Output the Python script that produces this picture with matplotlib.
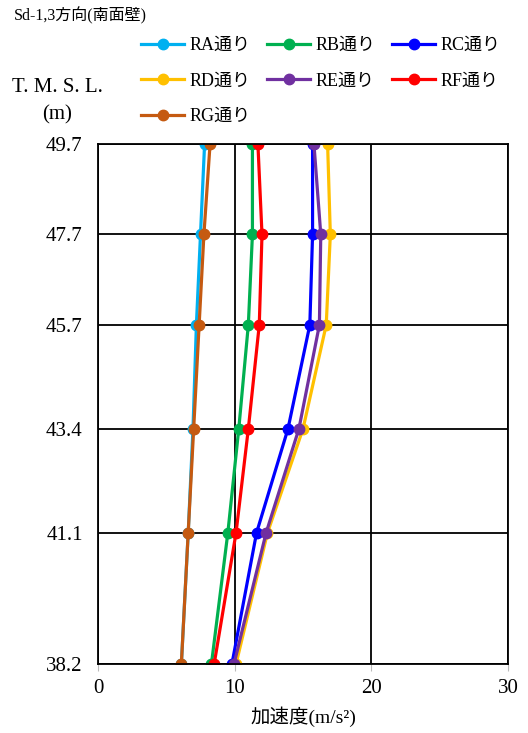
import matplotlib.pyplot as plt
import numpy as np

# elevation levels (T.M.S.L., m)
levels = [49.7, 47.7, 45.7, 43.4, 41.1, 38.2]
level_labels = ["49.7", "47.7", "45.7", "43.4", "41.1", "38.2"]

# acceleration (m/s2) per line, top to bottom
ra = [7.8, 7.5, 7.2, 6.95, 6.6, 6.1]
rb = [11.3, 11.3, 11.0, 10.3, 9.5, 8.3]
rc = [15.7, 15.7, 15.5, 13.9, 11.6, 9.8]
rd = [16.8, 17.0, 16.7, 15.0, 12.4, 10.1]
re_ = [15.8, 16.3, 16.2, 14.7, 12.3, 9.95]
rf = [11.7, 12.0, 11.8, 11.0, 10.1, 8.5]
rg = [8.2, 7.75, 7.4, 7.0, 6.6, 6.1]

names = ["RA通り", "RB通り", "RC通り", "RD通り", "RE通り", "RF通り", "RG通り"]
series = [ra, rb, rc, rd, re_, rf, rg]
colors = ["#00B0F0", "#00B050", "#0000FF", "#FFC000", "#7030A0", "#FF0000", "#C55A11"]

x_ticks = [0, 10, 20, 30]

fams = ["Liberation Serif", "Noto Sans CJK JP"]
plt.rcParams['font.family'] = fams

fig = plt.figure(figsize=(5.28, 7.33), dpi=100)
ax = fig.add_axes([98 / 528, 1 - 664 / 733, 410 / 528, 520 / 733])

handles = []
for name, vals, c in zip(names, series, colors):
    h, = ax.plot(vals, levels, color=c, lw=2.3, marker='o', ms=7.5, label=name)
    handles.append(h)

ax.set_xlim(0, 30)
ax.set_ylim(38.2, 49.7)
ax.set_xticks(x_ticks)
ax.set_yticks(levels)
ax.set_yticklabels(level_labels)
ax.grid(True, color='black', lw=1.3)
ax.set_axisbelow(True)
for s in ax.spines.values():
    s.set_color('black')
    s.set_linewidth(1.3)
ax.tick_params(axis='x', direction='out', length=5, color='#BBBBBB', labelsize=15, pad=6)
ax.tick_params(axis='y', length=0, labelsize=15, pad=11)

ax.set_xlabel("加速度(m/s²)", fontsize=14, labelpad=6)

fig.text(14 / 528, 1 - 16 / 733, "Sd-1,3方向(南面壁)", fontsize=11.5, va='center', ha='left')
fig.text(57 / 528, 1 - 88 / 733, "T. M. S. L.", fontsize=15, va='center', ha='center')
fig.text(57 / 528, 1 - 115 / 733, "(m)", fontsize=15, va='center', ha='center')

# legend fills columns first: reorder so rows read RA RB RC / RD RE RF / RG
order = [0, 3, 6, 1, 4, 2, 5]
fig.legend([handles[i] for i in order], [names[i] for i in order],
           ncol=3, loc='upper left', bbox_to_anchor=(141 / 528, 1 - 37 / 733),
           frameon=False, fontsize=13, handlelength=2.4, handletextpad=0.3,
           columnspacing=0.9, labelspacing=1.03, borderpad=0, borderaxespad=0)

fig.savefig("out.png", dpi=100)
